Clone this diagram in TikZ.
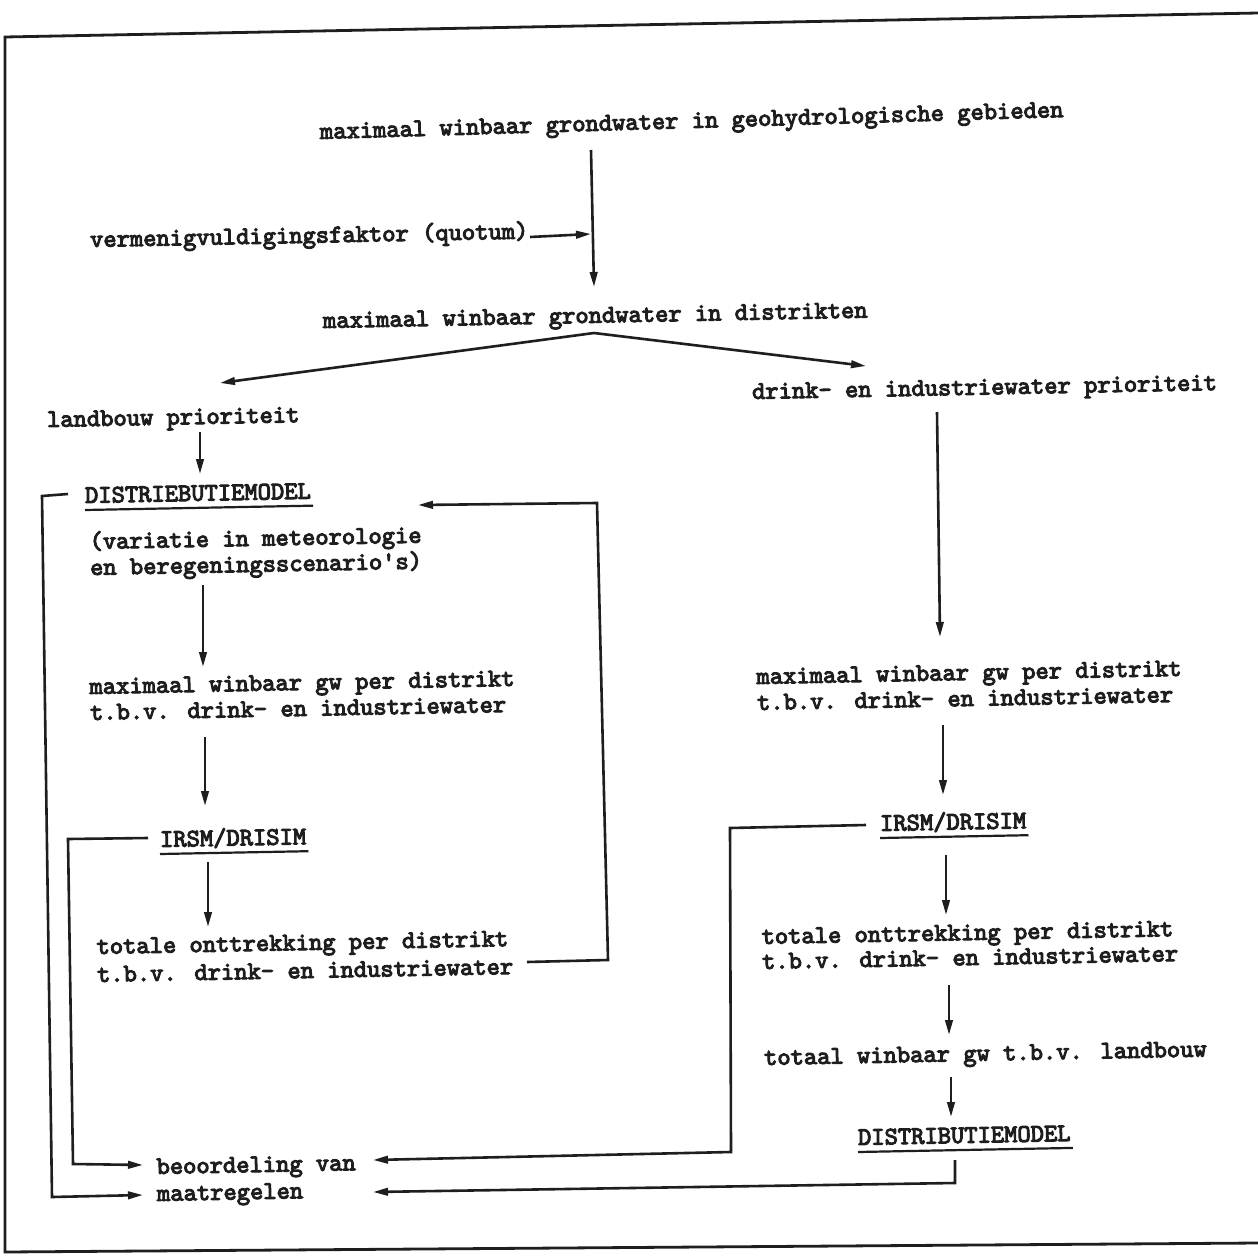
\documentclass[tikz,border=0pt]{standalone}
\usepackage{fontspec}
\newfontfamily\twfont{lmmono10-regular.otf}[FakeBold=4]
\usetikzlibrary{arrows.meta,calc}
\definecolor{ink}{HTML}{1E1E1E}
\begin{document}
\begin{tikzpicture}[x=1pt,y=-1pt,
  tw/.style={anchor=base west, inner sep=0pt, rotate=1.1, text=ink, align=left,
    font=\twfont\fontsize{25.3}{26}\selectfont},
  ln/.style={draw=ink, line width=2.6pt, line join=miter},
  arr/.style={ln, -{Triangle[length=15pt,width=7.5pt]}},
  ul/.style={draw=ink, line width=2.2pt}]
\useasboundingbox (0,0) rectangle (1258,1257);
\fill[white] (0,0) rectangle (1258,1257);

% frame
\coordinate (ftr) at (1258,13);
\coordinate (ftl) at (5,37);
\coordinate (fbl) at (5,1252);
\coordinate (fbr) at (1258,1243);
\draw[ln, line width=2.8pt] (ftr) -- (ftl) -- (fbl) -- (fbr);

% texts (multi-line nodes: base = baseline of last line)
\node[tw, rotate=0.6] (t1) at (320,139) {maximaal winbaar grondwater in geohydrologische gebieden};
\node[tw] (t2) at (90,247) {vermenigvuldigingsfaktor (quotum)};
\node[tw] (t3) at (323,328) {maximaal winbaar grondwater in distrikten};
\node[tw] (t4) at (47,427) {landbouw prioriteit};
\node[tw] (t5) at (752,399) {drink- en industriewater prioriteit};
\node[tw] (t6) at (85,503) {DISTRIEBUTIEMODEL};
\node[tw] (t7) at (90,575) {(variatie in meteorologie\\en beregeningsscenario's)};
\node[tw] (t8) at (90,720) {maximaal winbaar gw per distrikt\\t.b.v. drink- en industriewater};
\node[tw] (t9) at (160,847) {IRSM/DRISIM};
\node[tw] (t10) at (97,982) {totale onttrekking per distrikt\\[2pt]t.b.v. drink- en industriewater};
\node[tw] (t11) at (757,710) {maximaal winbaar gw per distrikt\\t.b.v. drink- en industriewater};
\node[tw] (t12) at (880,831) {IRSM/DRISIM};
\node[tw] (t13) at (762,969) {totale onttrekking per distrikt\\[-1pt]t.b.v. drink- en industriewater};
\node[tw] (t14) at (764,1065) {totaal winbaar gw t.b.v. landbouw};
\node[tw] (t15) at (858,1145) {DISTRIBUTIEMODEL};
\node[tw] (t16) at (157,1201) {beoordeling van\\[1pt]maatregelen};

% underlines
\draw[ul] ($(t6.base west)+(0,7)$) -- ($(t6.base east)+(2,7)$);
\draw[ul] ($(t9.base west)+(0,7)$) -- ($(t9.base east)+(2,7)$);
\draw[ul] ($(t12.base west)+(0,7)$) -- ($(t12.base east)+(2,7)$);
\draw[ul] ($(t15.base west)+(0,7)$) -- ($(t15.base east)+(2,7)$);

% connector points
\coordinate (a1s) at (591,150);
\coordinate (a1e) at (594,287);
\coordinate (a2s) at (530,237);
\coordinate (a2e) at (591,234);
\coordinate (sp) at (594,333);
\coordinate (spl) at (220,383);
\coordinate (spr) at (866,366);
\coordinate (a5s) at (200,432);
\coordinate (a5e) at (200,474);
\coordinate (a6s) at (203,585);
\coordinate (a6e) at (203,667);
\coordinate (a7s) at (205,737);
\coordinate (a7e) at (205,806);
\coordinate (a8s) at (208,862);
\coordinate (a8e) at (208,927);
\coordinate (l1a) at (527,962);
\coordinate (l1b) at (608,960);
\coordinate (l1c) at (597,503);
\coordinate (l1d) at (418,505);
\coordinate (l2a) at (68,494);
\coordinate (l2b) at (42,496);
\coordinate (l2c) at (52,1197);
\coordinate (l2d) at (143,1195);
\coordinate (l3a) at (148,838);
\coordinate (l3b) at (68,839);
\coordinate (l3c) at (73,1164);
\coordinate (l3d) at (143,1165);
\coordinate (a9s) at (937,412);
\coordinate (a9e) at (940,637);
\coordinate (a10s) at (943,725);
\coordinate (a10e) at (943,795);
\coordinate (a11s) at (946,855);
\coordinate (a11e) at (946,915);
\coordinate (a12s) at (949,985);
\coordinate (a12e) at (949,1035);
\coordinate (a13s) at (951,1077);
\coordinate (a13e) at (951,1117);
\coordinate (l4a) at (866,825);
\coordinate (l4b) at (730,828);
\coordinate (l4c) at (731,1152);
\coordinate (l4d) at (373,1160);
\coordinate (l5a) at (955,1160);
\coordinate (l5b) at (955,1183);
\coordinate (l5d) at (373,1192);

% connectors
\draw[arr] (a1s) -- (a1e);
\draw[arr] (a2s) -- (a2e);
\draw[arr] (sp) -- (spl);
\draw[arr] (sp) -- (spr);
\draw[arr] (a5s) -- (a5e);
\draw[arr] (a6s) -- (a6e);
\draw[arr] (a7s) -- (a7e);
\draw[arr] (a8s) -- (a8e);
\draw[arr] (l1a) -- (l1b) -- (l1c) -- (l1d);
\draw[arr] (l2a) -- (l2b) -- (l2c) -- (l2d);
\draw[arr] (l3a) -- (l3b) -- (l3c) -- (l3d);
\draw[arr] (a9s) -- (a9e);
\draw[arr] (a10s) -- (a10e);
\draw[arr] (a11s) -- (a11e);
\draw[arr] (a12s) -- (a12e);
\draw[arr] (a13s) -- (a13e);
\draw[arr] (l4a) -- (l4b) -- (l4c) -- (l4d);
\draw[arr] (l5a) -- (l5b) -- (l5d);
\end{tikzpicture}
\end{document}
